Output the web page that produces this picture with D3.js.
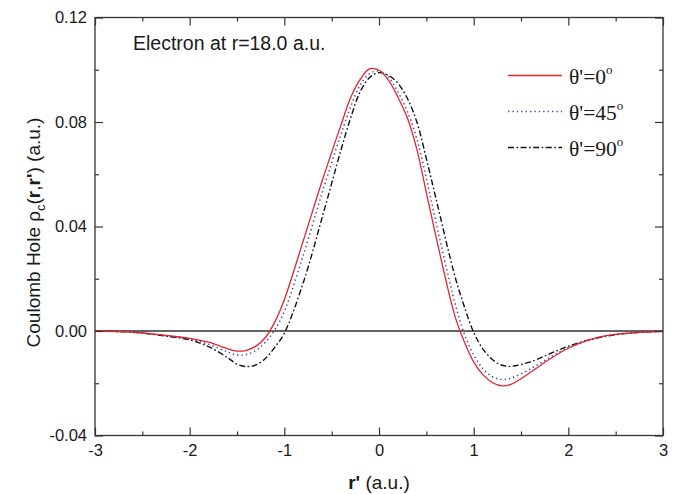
<!DOCTYPE html>
<html lang="en">
<meta http-equiv="content-type" content="text/html; charset=utf-8" />
<script src="https://d3js.org/d3.v7.min.js"></script>
<style>
  body { margin: 0; background: white; }
  text { font-family: "Liberation Sans", Arial, sans-serif; fill: #1a1a1a; }
</style>
<body>
<svg id="chart" width="688" height="494"></svg>
<script>
var rPrime = [-3, -2.6, -2.2, -2.0, -1.8, -1.6, -1.5, -1.4, -1.3, -1.2, -1.1, -1.0, -0.8, -0.6, -0.4, -0.3, -0.2, -0.1,
  0.0, 0.1, 0.2, 0.3, 0.4, 0.5, 0.6, 0.8, 0.9, 1.0, 1.1, 1.2, 1.3, 1.4, 1.6, 1.8, 2.0, 2.2, 2.4, 2.6, 2.8, 3.0];

// theta' = 0
var hole0 = [0, -0.0004, -0.0019, -0.0028, -0.0043, -0.0068, -0.0077, -0.0074, -0.0058, -0.0025, 0.0035, 0.0120,
  0.0345, 0.0575, 0.0790, 0.0893, 0.0962, 0.1003, 0.0998, 0.0960, 0.0895, 0.0815, 0.0695, 0.0530, 0.0365,
  0.0060, -0.0040, -0.0118, -0.0168, -0.0198, -0.0210, -0.0203, -0.0158, -0.0108, -0.0066, -0.0036, -0.0018,
  -0.0009, -0.0004, -0.0001];

// theta' = 45
var hole45 = [0, -0.0004, -0.0021, -0.0031, -0.0051, -0.0080, -0.0092, -0.0090, -0.0074, -0.0043, 0.0005, 0.0075,
  0.0290, 0.0530, 0.0755, 0.0858, 0.0940, 0.0985, 0.0995, 0.0972, 0.0915, 0.0840, 0.0735, 0.0585, 0.0420,
  0.0110, -0.0010, -0.0092, -0.0145, -0.0175, -0.0186, -0.0180, -0.0145, -0.0102, -0.0064, -0.0037, -0.0019,
  -0.0009, -0.0004, -0.0001];

// theta' = 90
var hole90 = [0, -0.0005, -0.0022, -0.0034, -0.0060, -0.0102, -0.0127, -0.0136, -0.0130, -0.0105, -0.0062, -0.0008,
  0.0185, 0.0435, 0.0695, 0.0815, 0.0915, 0.0970, 0.0989, 0.0978, 0.0948, 0.0890, 0.0800, 0.0660, 0.0510,
  0.0212, 0.0095, -0.0005, -0.0070, -0.0110, -0.0131, -0.0135, -0.0118, -0.0088, -0.0058, -0.0036, -0.0020,
  -0.0010, -0.0004, -0.0001];

var xTicks = [-3, -2, -1, 0, 1, 2, 3];
var xMinor = [-2.5, -1.5, -0.5, 0.5, 1.5, 2.5];
var yTicks = [-0.04, 0.00, 0.04, 0.08, 0.12];
var yMinor = [-0.02, 0.02, 0.06, 0.10];
var legendNames = ["0", "45", "90"];

var svg = d3.select("#chart");
var margin = {left: 95, right: 25, top: 17.5, bottom: 58.5};
var width = 688 - margin.left - margin.right;
var height = 494 - margin.top - margin.bottom;

var g = svg.append("g").attr("transform", "translate(" + margin.left + "," + margin.top + ")");

var x = d3.scaleLinear().domain([-3, 3]).range([0, width]);
var y = d3.scaleLinear().domain([-0.04, 0.12]).range([height, 0]);

// plain hyphen for negatives, like the original plot
function hyph(f) { return function(d) { return f(d).replace("\u2212", "-"); }; }

// zero line
g.append("line")
  .attr("x1", 0).attr("x2", width)
  .attr("y1", y(0)).attr("y2", y(0))
  .attr("stroke", "#333").attr("stroke-width", 1.4);

// curves
var series = [
  {vals: hole0, color: "#e8232b", dash: null, w: 1.3},
  {vals: hole45, color: "#3a4fa8", dash: "1.4,3", w: 1.5},
  {vals: hole90, color: "#111", dash: "6,2.5,1.6,2.5", w: 1.4}
];

var line = d3.line()
  .x(function(d) { return x(d[0]); })
  .y(function(d) { return y(d[1]); })
  .curve(d3.curveCatmullRom.alpha(0.5));

series.slice().reverse().forEach(function(s) {
  var pts = rPrime.map(function(r, i) { return [r, s.vals[i]]; });
  g.append("path")
    .datum(pts)
    .attr("d", line)
    .attr("fill", "none")
    .attr("stroke", s.color)
    .attr("stroke-width", s.w)
    .attr("stroke-dasharray", s.dash);
});

// axes, ticks pointing inward
function styleAxis(sel) {
  sel.select(".domain").remove();
  sel.selectAll(".tick line").attr("stroke", "#333").attr("stroke-width", 1.2);
  sel.selectAll(".tick text").style("font-family", "'Liberation Sans', Arial, sans-serif")
    .style("font-size", "16.5px").attr("fill", "#1a1a1a");
}

g.append("g").attr("transform", "translate(0," + height + ")")
  .call(d3.axisBottom(x).tickValues(xTicks).tickSize(-8).tickPadding(9).tickFormat(hyph(d3.format("d"))))
  .call(styleAxis);
g.append("g").attr("transform", "translate(0," + height + ")")
  .call(d3.axisBottom(x).tickValues(xMinor).tickSize(-4).tickFormat(""))
  .call(styleAxis);
g.append("g")
  .call(d3.axisTop(x).tickValues(xTicks).tickSize(-8).tickFormat(""))
  .call(styleAxis);
g.append("g")
  .call(d3.axisTop(x).tickValues(xMinor).tickSize(-4).tickFormat(""))
  .call(styleAxis);

g.append("g")
  .call(d3.axisLeft(y).tickValues(yTicks).tickSize(-8).tickPadding(8).tickFormat(hyph(d3.format(".2f"))))
  .call(styleAxis);
g.append("g")
  .call(d3.axisLeft(y).tickValues(yMinor).tickSize(-4).tickFormat(""))
  .call(styleAxis);
g.append("g").attr("transform", "translate(" + width + ",0)")
  .call(d3.axisRight(y).tickValues(yTicks).tickSize(-8).tickFormat(""))
  .call(styleAxis);
g.append("g").attr("transform", "translate(" + width + ",0)")
  .call(d3.axisRight(y).tickValues(yMinor).tickSize(-4).tickFormat(""))
  .call(styleAxis);

// frame
g.append("rect")
  .attr("width", width).attr("height", height)
  .attr("fill", "none").attr("stroke", "#333").attr("stroke-width", 1.3);

// annotation
g.append("text")
  .attr("x", 38).attr("y", 32)
  .style("font-size", "19.5px")
  .text("Electron at r=18.0 a.u.");

// legend
var legend = g.append("g").attr("transform", "translate(413,58)");
series.forEach(function(s, i) {
  var row = legend.append("g").attr("transform", "translate(0," + (i * 36) + ")");
  row.append("line")
    .attr("x1", 0).attr("x2", 54)
    .attr("stroke", s.color).attr("stroke-width", s.w)
    .attr("stroke-dasharray", s.dash);
  var t = row.append("text")
    .attr("x", 61).attr("y", 8)
    .style("font-family", "'Liberation Serif', 'Times New Roman', serif")
    .style("font-size", "21.5px");
  t.append("tspan").text("\u03b8'=" + legendNames[i]);
  t.append("tspan").attr("dy", -10).style("font-size", "13px").text("o");
});

// x axis title
var xt = svg.append("text")
  .attr("x", margin.left + width / 2).attr("y", 489)
  .attr("text-anchor", "middle")
  .style("font-size", "19px");
xt.append("tspan").style("font-weight", "bold").text("r'");
xt.append("tspan").text(" (a.u.)");

// y axis title
var yt = svg.append("text")
  .attr("transform", "translate(40," + (margin.top + 215) + ") rotate(-90)")
  .attr("text-anchor", "middle")
  .style("font-size", "19px");
yt.append("tspan").text("Coulomb Hole \u03c1");
yt.append("tspan").attr("dy", 5).style("font-size", "13px").text("c");
yt.append("tspan").attr("dy", -5).text("(");
yt.append("tspan").style("font-weight", "bold").text("r");
yt.append("tspan").text(",");
yt.append("tspan").style("font-weight", "bold").text("r'");
yt.append("tspan").text(") (a.u.)");
</script>
</body>
</html>
